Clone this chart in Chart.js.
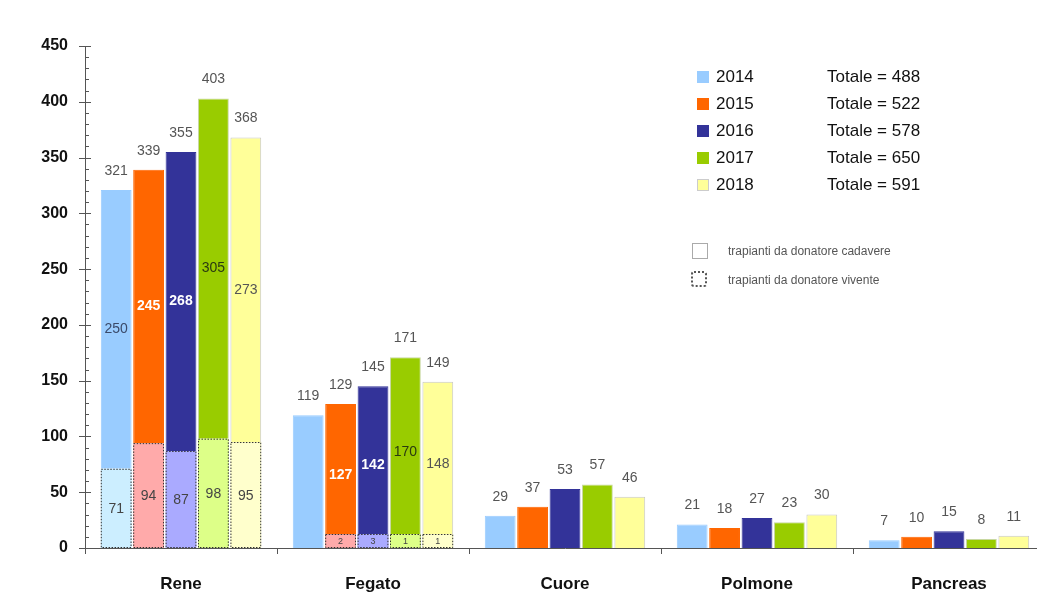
<!DOCTYPE html>
<html>
<head>
<meta charset="utf-8">
<script src="https://cdn.jsdelivr.net/npm/chart.js@4.4.1/dist/chart.umd.min.js"></script>
<style>
  html, body { margin: 0; padding: 0; background: #fff; overflow: hidden; }
  #wrap { position: relative; width: 1037px; height: 595px; overflow: hidden; font-family: Arial, "Liberation Sans", sans-serif; }
  #chart { position: absolute; left: 0; top: 0; }
  .sq { position: absolute; width: 12px; height: 12px; border: 1px solid #bbb; box-sizing: border-box; }
  .lt { position: absolute; font-size: 17px; color: #111; line-height: 20px; }
  .nt { position: absolute; font-size: 12px; color: #555; line-height: 14px; }
  .box { position: absolute; width: 16px; height: 16px; box-sizing: border-box; }
</style>
</head>
<body>
<div id="wrap">
  <!-- l'asse x prosegue oltre il bordo destro, come nell'originale -->
  <canvas id="chart" width="1045" height="595"></canvas>
  <div id="legend"></div>
</div>
<script>
// organi e anni
const categories = ["Rene", "Fegato", "Cuore", "Polmone", "Pancreas"];
const years = ["2014", "2015", "2016", "2017", "2018"];

// trapianti da donatore cadavere
const cadavere2014 = [250, 119, 29, 21, 7];
const cadavere2015 = [245, 127, 37, 18, 10];
const cadavere2016 = [268, 142, 53, 27, 15];
const cadavere2017 = [305, 170, 57, 23, 8];
const cadavere2018 = [273, 148, 46, 30, 11];

// trapianti da donatore vivente
const vivente2014 = [71, 0, 0, 0, 0];
const vivente2015 = [94, 2, 0, 0, 0];
const vivente2016 = [87, 3, 0, 0, 0];
const vivente2017 = [98, 1, 0, 0, 0];
const vivente2018 = [95, 1, 0, 0, 0];

// totali in legenda
const yearTotals = [488, 522, 578, 650, 591];
const yTickLabels = [0, 50, 100, 150, 200, 250, 300, 350, 400, 450];

const cadavere = [cadavere2014, cadavere2015, cadavere2016, cadavere2017, cadavere2018];
const vivente = [vivente2014, vivente2015, vivente2016, vivente2017, vivente2018];

// colori
const darkColors = ["#99ccff", "#ff6600", "#333399", "#99cc00", "#ffff99"];
const lightColors = ["#cceeff", "#ffaaaa", "#aaaaff", "#ddff88", "#ffffcc"];
const edgeColors = ["#99ccff", "#ff6600", "#333399", "#c8d8a0", "#c8c8c8"];
const innerColors = ["#3a4a6a", "#ffffff", "#ffffff", "#2a3a10", "#555555"];
const FONT = "Arial, 'Liberation Sans', sans-serif";

const datasets = [];
years.forEach((y, i) => {
  datasets.push({
    label: y + " vivente",
    data: vivente[i],
    stack: y,
    backgroundColor: lightColors[i],
    borderWidth: 0,
  });
  datasets.push({
    label: y,
    data: cadavere[i],
    stack: y,
    backgroundColor: darkColors[i],
    borderColor: edgeColors[i],
    borderWidth: 1,
  });
});

// etichette e bordi tratteggiati
const labelPlugin = {
  id: "labels",
  afterDatasetsDraw(chart) {
    const ctx = chart.ctx;
    ctx.save();
    ctx.textAlign = "center";
    ctx.textBaseline = "middle";
    years.forEach((y, i) => {
      const livMeta = chart.getDatasetMeta(2 * i);
      const cadMeta = chart.getDatasetMeta(2 * i + 1);
      categories.forEach((c, j) => {
        const liv = vivente[i][j];
        const cad = cadavere[i][j];
        const cadEl = cadMeta.data[j];
        if (liv > 0) {
          const le = livMeta.data[j];
          const w = le.width;
          // riquadro tratteggiato (altezza minima per leggere il numero)
          const top = Math.min(le.y, le.base - 14);
          const h = le.base - top;
          if (le.base - le.y < 14) {
            ctx.fillStyle = lightColors[i];
            ctx.fillRect(le.x - w / 2, top, w, h);
          }
          ctx.setLineDash([1.5, 1.5]);
          ctx.strokeStyle = "#333";
          ctx.lineWidth = 1;
          ctx.strokeRect(le.x - w / 2 + 0.5, top + 0.5, w - 1, h - 1);
          ctx.setLineDash([]);
          ctx.fillStyle = "#444";
          ctx.font = (h < 20 ? "9px " : "14px ") + FONT;
          ctx.fillText(String(liv), le.x, top + h / 2 + 1);
          // etichetta cadavere dentro la barra
          ctx.fillStyle = innerColors[i];
          ctx.font = (i === 1 || i === 2 ? "bold " : "") + "14px " + FONT;
          ctx.fillText(String(cad), cadEl.x, (cadEl.y + cadEl.base) / 2);
        }
        ctx.fillStyle = "#555";
        ctx.font = "14px " + FONT;
        ctx.fillText(String(liv + cad), cadEl.x, cadEl.y - 19);
      });
    });
    ctx.restore();
  },
  afterDraw(chart) {
    // tacche asse y: maggiori ogni 50, minori ogni 10
    const ctx = chart.ctx;
    const ys = chart.scales.y;
    const x0 = ys.right;
    ctx.save();
    ctx.strokeStyle = "#555";
    ctx.lineWidth = 1;
    ys.ticks.forEach((t) => {
      const py = Math.round(ys.getPixelForValue(t.value)) + 0.5;
      const major = yTickLabels.includes(t.value);
      ctx.beginPath();
      ctx.moveTo(major ? x0 - 6 : x0, py);
      ctx.lineTo(major ? x0 + 6 : x0 + 4, py);
      ctx.stroke();
    });
    ctx.restore();
  },
};

new Chart(document.getElementById("chart"), {
  type: "bar",
  data: { labels: categories, datasets: datasets },
  options: {
    responsive: false,
    animation: false,
    layout: { padding: { top: 46, right: 0, left: 0, bottom: 0 } },
    categoryPercentage: 0.844,
    barPercentage: 0.95,
    plugins: { legend: { display: false }, tooltip: { enabled: false } },
    scales: {
      x: {
        stacked: true,
        afterFit: (s) => { s.height = 47; },
        grid: { drawOnChartArea: false, offset: true, tickLength: 6, color: "#555" },
        border: { color: "#555" },
        ticks: { color: "#111", padding: 20, font: { family: FONT, size: 17, weight: "bold" } },
      },
      y: {
        stacked: true,
        min: 0,
        max: 450,
        afterFit: (s) => { s.width = 85; },
        grid: { display: false },
        border: { color: "#555" },
        ticks: {
          stepSize: 10,
          autoSkip: false,
          padding: 9,
          color: "#111",
          font: { family: FONT, size: 16, weight: "bold" },
          callback: (v) => (yTickLabels.includes(v) ? v : ""),
        },
      },
    },
  },
  plugins: [labelPlugin],
});

// legenda
const legend = document.getElementById("legend");
years.forEach((y, i) => {
  const cy = 77 + i * 27;
  legend.insertAdjacentHTML("beforeend",
    `<div class="sq" style="left:697px;top:${cy - 6}px;background:${darkColors[i]};border-color:${i === 4 ? "#ccc" : darkColors[i]}"></div>` +
    `<div class="lt" style="left:716px;top:${cy - 10}px">${y}</div>` +
    `<div class="lt" style="left:827px;top:${cy - 10}px">Totale = ${yearTotals[i]}</div>`);
});
legend.insertAdjacentHTML("beforeend",
  `<div class="box" style="left:692px;top:243px;border:1.5px solid #aaa"></div>` +
  `<div class="nt" style="left:728px;top:244px">trapianti da donatore cadavere</div>` +
  `<div class="box" style="left:691px;top:271px;border:2px dotted #555;border-radius:3px"></div>` +
  `<div class="nt" style="left:728px;top:273px">trapianti da donatore vivente</div>`);
</script>
</body>
</html>
